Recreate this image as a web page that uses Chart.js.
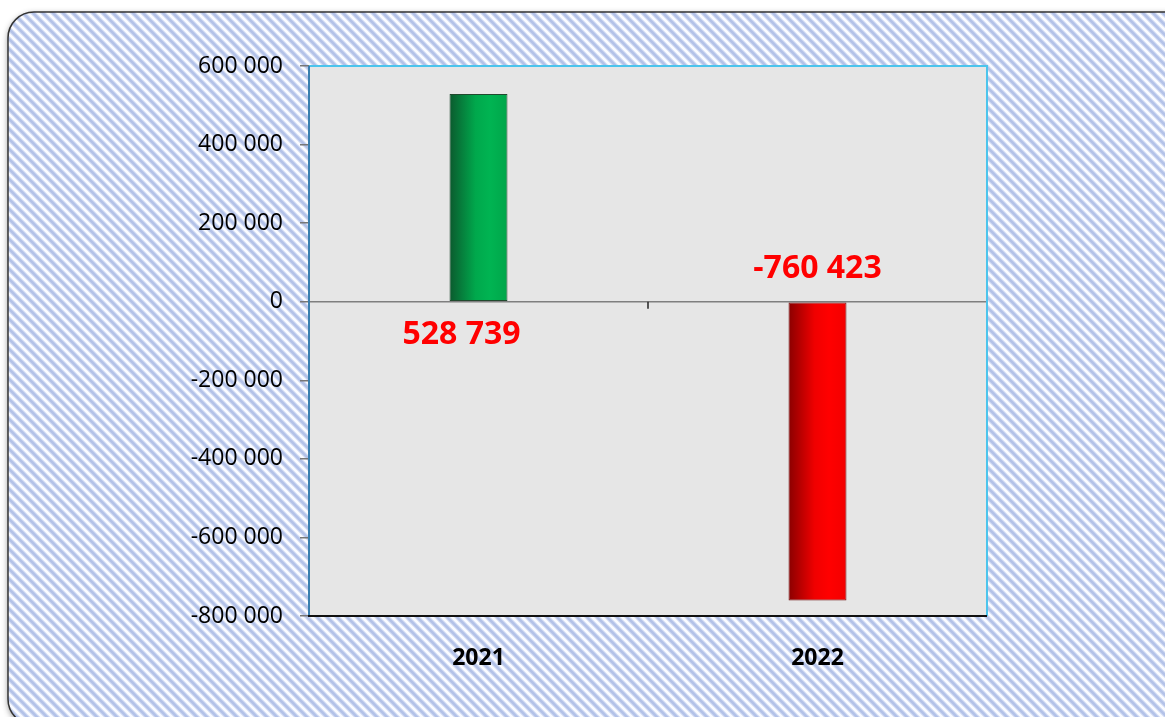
<!DOCTYPE html>
<html>
<head>
<meta charset="utf-8">
<script src="https://cdn.jsdelivr.net/npm/chart.js@4/dist/chart.umd.min.js"></script>
<style>
  body { margin: 0; background: #fff; }
  #wrap { width: 1165px; height: 717px; }
</style>
</head>
<body>
<div id="wrap"><canvas id="grafico" width="1165" height="717"></canvas></div>
<script>
const anos = ['2021', '2022'];
const valores = [528739, -760423];
const rotulos = ['528 739', '-760 423'];
const ticksY = [600000, 400000, 200000, 0, -200000, -400000, -600000, -800000];

const larguraBarra = 0.171;

function formatar(v) {
  const s = Math.abs(v).toString().replace(/\B(?=(\d{3})+(?!\d))/g, ' ');
  return (v < 0 ? '-' : '') + s;
}

// padrão de riscas diagonais do fundo
function criarPadrao(ctx) {
  const p = 10;
  const t = document.createElement('canvas');
  t.width = p; t.height = p;
  const c = t.getContext('2d');
  c.fillStyle = '#fafbff';
  c.fillRect(0, 0, p, p);
  const riscar = (cor, lw) => {
    c.strokeStyle = cor;
    c.lineWidth = lw;
    for (const k of [-p, 0, p]) {
      c.beginPath();
      c.moveTo(-2, -2 + k);
      c.lineTo(p + 2, p + 2 + k);
      c.stroke();
    }
  };
  riscar('#d2dcf3', 4.5);
  riscar('#b3c2e8', 2.6);
  return ctx.createPattern(t, 'repeat');
}

function gradienteBarra(context) {
  const chart = context.chart;
  const area = chart.chartArea;
  const positivo = valores[context.dataIndex] >= 0;
  if (!area) return positivo ? '#00b050' : '#ff0000';
  const xs = chart.scales.x;
  const cx = xs.getPixelForValue(context.dataIndex);
  const w = (area.right - area.left) / anos.length * larguraBarra;
  const g = chart.ctx.createLinearGradient(cx - w / 2, 0, cx + w / 2, 0);
  if (positivo) {
    g.addColorStop(0, '#0b5a2e');
    g.addColorStop(0.45, '#00a84c');
    g.addColorStop(0.7, '#00b452');
    g.addColorStop(1, '#00a64a');
  } else {
    g.addColorStop(0, '#8a0000');
    g.addColorStop(0.45, '#f00000');
    g.addColorStop(0.7, '#ff0000');
    g.addColorStop(1, '#f20000');
  }
  return g;
}

const fundo = {
  id: 'fundo',
  beforeDraw(chart) {
    const ctx = chart.ctx;
    const a = chart.chartArea;
    ctx.save();
    ctx.fillStyle = '#fff';
    ctx.fillRect(0, 0, chart.width, chart.height);
    // caixa arredondada com sombra
    ctx.beginPath();
    ctx.roundRect(8, 12, chart.width + 30, chart.height - 4, 26);
    ctx.shadowColor = 'rgba(0,0,0,0.45)';
    ctx.shadowBlur = 6;
    ctx.shadowOffsetY = 2;
    ctx.fillStyle = '#f5f7fd';
    ctx.fill();
    ctx.shadowColor = 'transparent';
    ctx.fillStyle = criarPadrao(ctx);
    ctx.fill();
    ctx.strokeStyle = '#333';
    ctx.lineWidth = 1.5;
    ctx.stroke();
    // area do grafico
    ctx.fillStyle = '#e6e6e6';
    ctx.fillRect(a.left, a.top, a.right - a.left, a.bottom - a.top);
    ctx.restore();
  },
  beforeDatasetsDraw(chart) {
    const ctx = chart.ctx;
    const a = chart.chartArea;
    const xs = chart.scales.x;
    const y0 = chart.scales.y.getPixelForValue(0);
    ctx.save();
    ctx.strokeStyle = '#7f7f7f';
    ctx.lineWidth = 1.5;
    ctx.beginPath();
    ctx.moveTo(a.left, y0);
    ctx.lineTo(a.right, y0);
    ctx.stroke();
    // marcas entre categorias
    ctx.strokeStyle = '#222';
    ctx.lineWidth = 1.5;
    for (let i = 1; i <= anos.length; i++) {
      const xx = i === anos.length ? a.right : (xs.getPixelForValue(i - 1) + xs.getPixelForValue(i)) / 2;
      ctx.beginPath();
      ctx.moveTo(xx, y0);
      ctx.lineTo(xx, y0 + 7);
      ctx.stroke();
    }
    ctx.restore();
  },
  afterDatasetsDraw(chart) {
    const ctx = chart.ctx;
    const a = chart.chartArea;
    ctx.save();
    // bordas
    ctx.lineWidth = 2;
    ctx.strokeStyle = '#4cc4ec';
    ctx.beginPath();
    ctx.moveTo(a.left, a.top);
    ctx.lineTo(a.right, a.top);
    ctx.lineTo(a.right, a.bottom);
    ctx.stroke();
    ctx.strokeStyle = '#3a7fae';
    ctx.beginPath();
    ctx.moveTo(a.left, a.top);
    ctx.lineTo(a.left, a.bottom);
    ctx.stroke();
    ctx.strokeStyle = '#111';
    ctx.beginPath();
    ctx.moveTo(a.left - 1, a.bottom);
    ctx.lineTo(a.right, a.bottom);
    ctx.stroke();

    // rotulos dos valores
    const meta = chart.getDatasetMeta(0);
    const y0 = chart.scales.y.getPixelForValue(0);
    ctx.font = 'bold 32px "Open Sans"';
    ctx.fillStyle = '#ff0000';
    ctx.textAlign = 'center';
    ctx.textBaseline = 'middle';
    meta.data.forEach((bar, i) => {
      const y = valores[i] >= 0 ? y0 + 33 : y0 - 33;
      const dx = i === 0 ? -17 : 0;
      ctx.fillText(rotulos[i], bar.x + dx, y);
    });
    ctx.restore();
  }
};

const ctx = document.getElementById('grafico').getContext('2d');
const grafico = new Chart(ctx, {
  type: 'bar',
  data: {
    labels: anos,
    datasets: [{
      data: valores,
      backgroundColor: gradienteBarra,
      borderColor: ['#21492e', '#6e1010'],
      borderWidth: 1,
      borderSkipped: false,
      barPercentage: larguraBarra,
      categoryPercentage: 1
    }]
  },
  options: {
    responsive: false,
    animation: false,
    layout: { padding: { top: 66, right: 178, left: 0, bottom: 0 } },
    plugins: { legend: { display: false }, tooltip: { enabled: false } },
    scales: {
      x: {
        grid: { display: false },
        border: { display: false },
        ticks: {
          color: '#000',
          padding: 21,
          font: { family: 'Open Sans', size: 23, weight: 'bold' }
        },
        afterFit(s) { s.height = 101; }
      },
      y: {
        min: -800000,
        max: 600000,
        afterBuildTicks(s) { s.ticks = ticksY.map(v => ({ value: v })); },
        grid: { drawOnChartArea: false, tickLength: 9, color: '#777', lineWidth: 1.5 },
        border: { display: false },
        ticks: {
          color: '#000',
          padding: 17,
          font: { family: 'Open Sans', size: 23 },
          callback: v => formatar(v)
        },
        afterFit(s) { s.width = 309; }
      }
    }
  },
  plugins: [fundo]
});
</script>
</body>
</html>
